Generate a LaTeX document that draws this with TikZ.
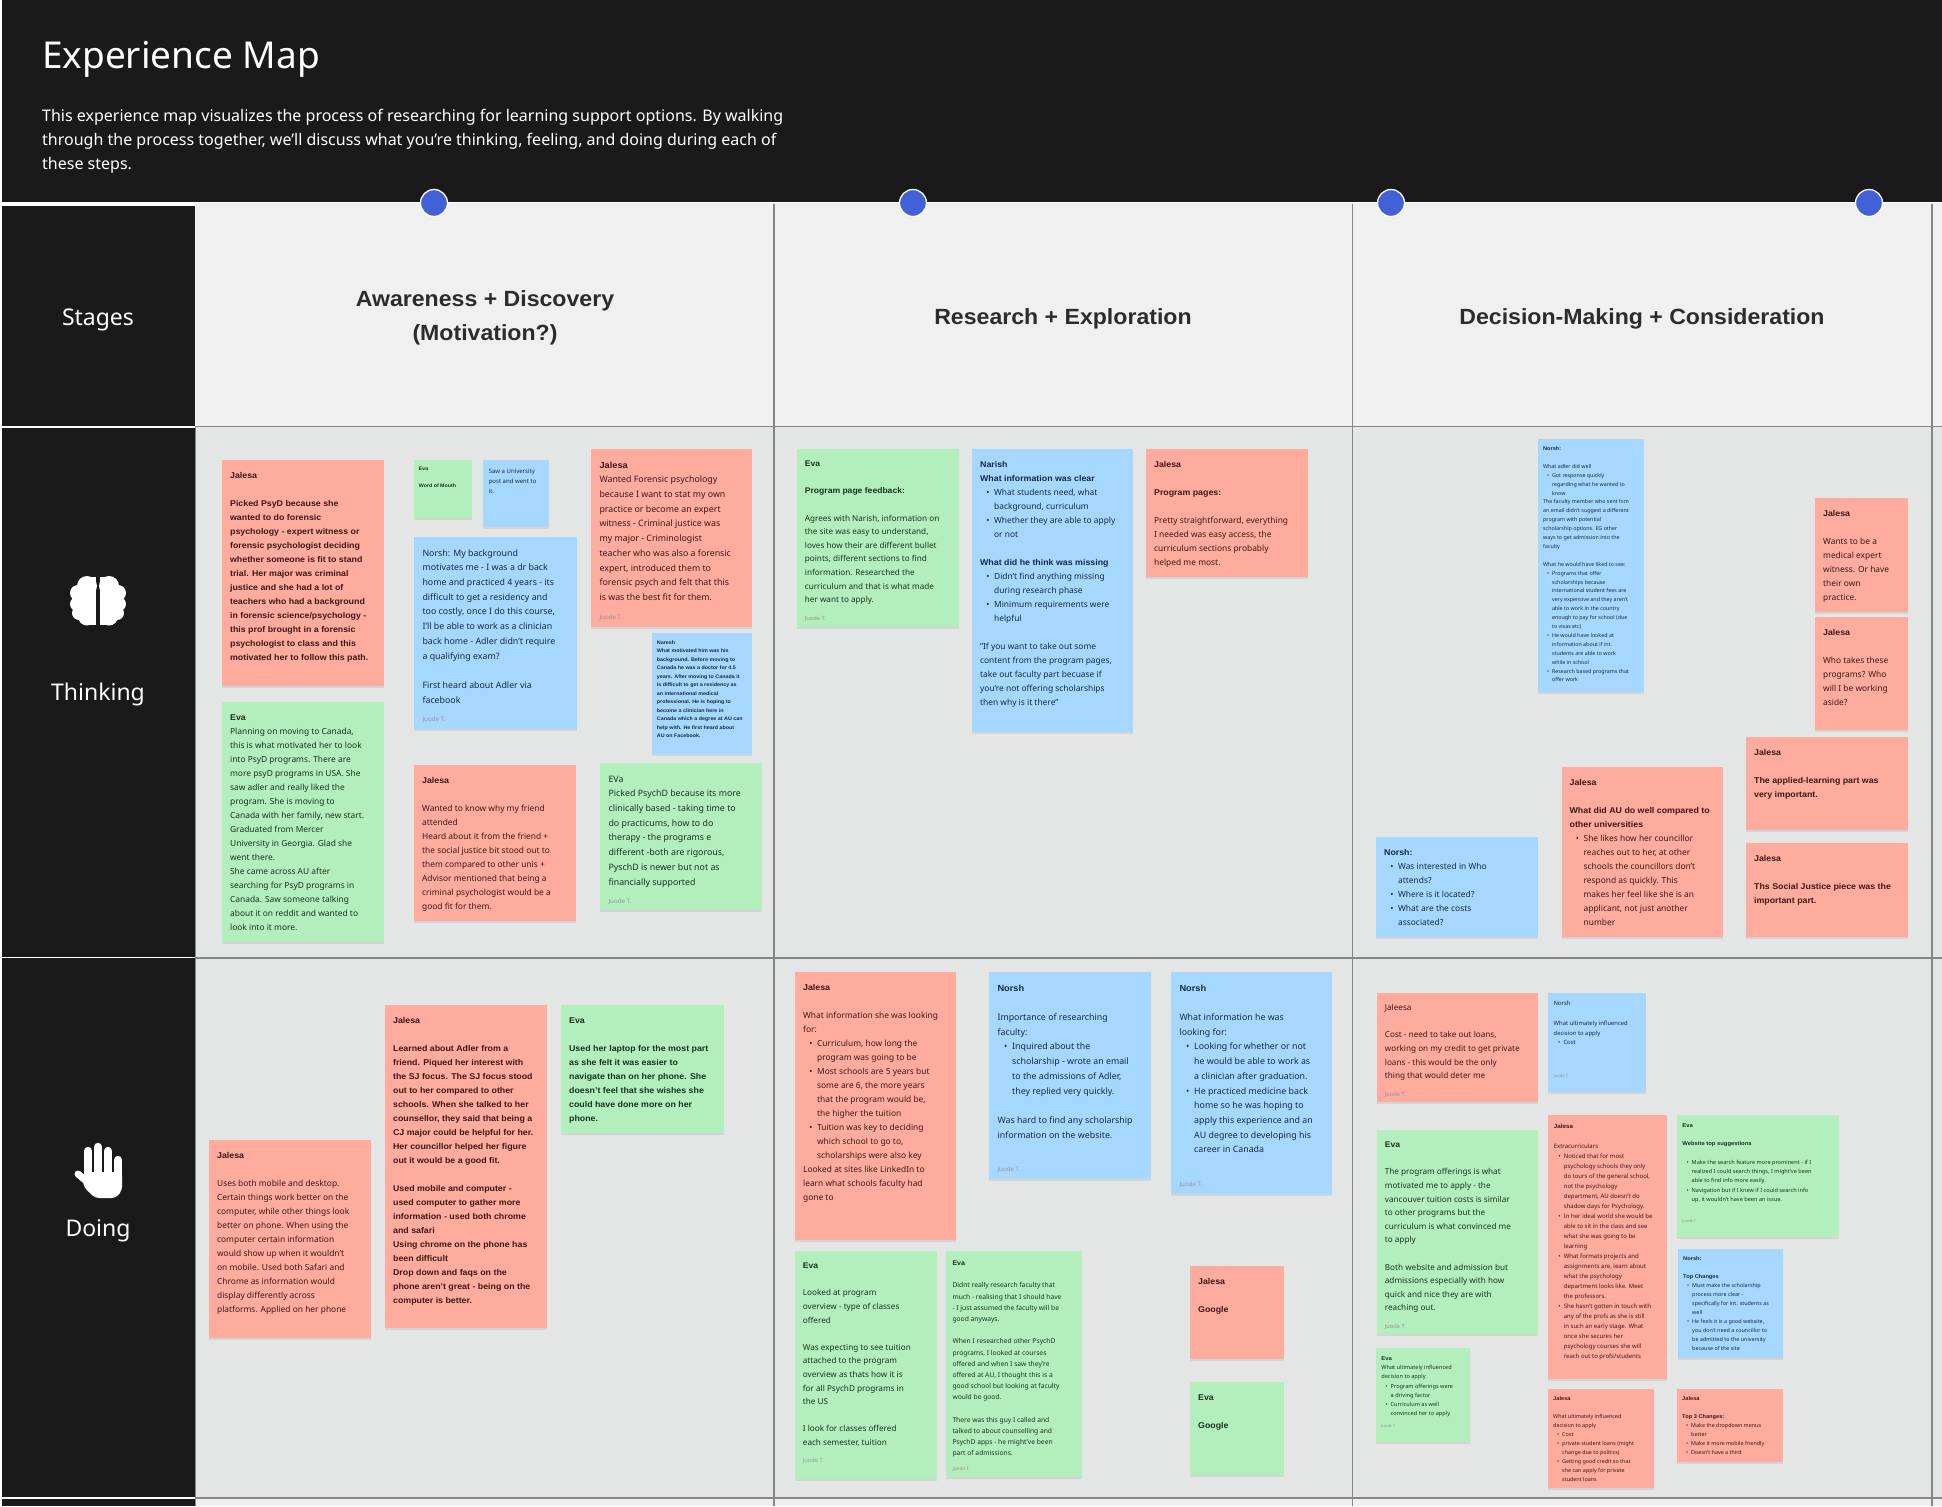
\documentclass[tikz,border=0pt]{standalone}
\usepackage{fontspec}
\setmainfont{Noto Sans}[BoldFont={Liberation Sans Bold},BoldFeatures={FakeStretch=1.05}]
\usetikzlibrary{shadows}
\definecolor{ink}{HTML}{1A1A1A}
\definecolor{stagebg}{HTML}{F0F0F0}
\definecolor{rowbg}{HTML}{E4E5E5}
\definecolor{gridln}{HTML}{868686}
\definecolor{dotblue}{HTML}{4361D6}
\definecolor{pkbg}{HTML}{FFAB9E}
\definecolor{grbg}{HTML}{B3EFBD}
\definecolor{blbg}{HTML}{A6D8FF}
\definecolor{pktx}{HTML}{3A1A18}
\definecolor{grtx}{HTML}{17331E}
\definecolor{bltx}{HTML}{142A42}
\newlength\LD
\newcommand\Fsr{0.60}
\newcommand\Nm[1]{\textbf{#1}}
\newcommand\Bi[1]{\hspace*{\LD}\llap{\textbullet\hspace{.33\LD}}#1}
\newcommand\Ci[1]{\hspace*{\LD}#1}
\newcommand\Ft{\\[.28\LD]{\fontsize{\nftz}{\nld}\selectfont\color{black!42}Juode T.}}
\tikzset{
 note/.style={rectangle,inner sep=0pt,outer sep=0pt,anchor=north west,
   drop shadow={opacity=.16,shadow xshift=0pt,shadow yshift=-1.6pt}},
 gridline/.style={draw=gridln,line width=1.6pt},
 rowlabel/.style={text=white,anchor=center,inner sep=0pt,font=\fontsize{23}{28}\selectfont},
 coltitle/.style={text=ink!92,anchor=center,align=center,inner sep=0pt,font=\fontsize{22}{34}\selectfont\bfseries},
 dot/.style={circle,fill=dotblue,draw=white,line width=1.3pt,minimum size=27pt,inner sep=0pt}
}
% name, colour, x0, y0, x1, y1, leading, content
\newcommand\sticky[8]{%
 \pgfmathsetmacro\nld{#7}%
 \pgfmathsetmacro\nfsz{#7*\Fsr}%
 \pgfmathsetmacro\nftz{#7*.42}%
 \pgfmathsetmacro\nwid{#5-#3}%
 \pgfmathsetmacro\nhei{#6-#4}%
 \pgfmathsetmacro\ntw{#5-#3+60}%
 \node[note,fill=#2bg,text=#2tx] (#1) at (#3,#4) {\parbox[t][\nhei pt][t]{\nwid pt}{%
   \vspace*{.6\dimexpr#7pt\relax}\hspace*{.58\dimexpr#7pt\relax}\parbox[t]{\ntw pt}{\setlength\LD{#7pt}\raggedright\fontsize{\nfsz}{\nld}\selectfont\strut #8}}};%
}
\begin{document}
\begin{tikzpicture}[x=1pt,y=-1pt]
\useasboundingbox (0,0) rectangle (1942,1506);
\fill[white] (0,0) rectangle (1942,1506);
\fill[ink] (2,0) rectangle (1942,202);
\fill[stagebg] (195,203) rectangle (1942,426);
\fill[rowbg] (195,426) rectangle (1942,1498);
\fill[stagebg] (195,1498) rectangle (1942,1506);
\fill[ink] (2,206) rectangle (195,426);
\fill[ink] (2,428) rectangle (195,956.5);
\fill[ink] (2,958) rectangle (195,1497);
\fill[ink] (2,1499) rectangle (195,1506);
\draw[gridline] (195,426.5) -- (1942,426.5);
\draw[gridline] (195,958) -- (1942,958);
\draw[gridline] (195,1498) -- (1942,1498);
\draw[gridline] (774,204) -- (774,1506);
\draw[gridline] (1352.5,204) -- (1352.5,1506);
\draw[gridline] (1932,204) -- (1932,1506);
\draw[gridline] (195.5,426) -- (195.5,1506);

\node[text=white,anchor=west,inner sep=0pt,font=\fontsize{37}{44}\selectfont] (title) at (42,59) {Experience Map};
\node[text=white,anchor=north west,inner sep=0pt,align=left,font=\fontsize{16}{24}\selectfont] (intro) at (42,109) {This experience map visualizes the process of researching for learning support options. By walking\\through the process together, we'll discuss what you're thinking, feeling, and doing during each of\\these steps.};
\node[dot] (d1) at (434,203) {};
\node[dot] (d2) at (913,203) {};
\node[dot] (d3) at (1391,203) {};
\node[dot] (d4) at (1869,203) {};

\node[rowlabel] (stages) at (98,320) {Stages};
\node[rowlabel] (thinking) at (98,695) {Thinking};
\node[rowlabel] (doing) at (98,1231) {Doing};
\node[coltitle] (c1) at (485,318) {Awareness + Discovery\\(Motivation?)};
\node[coltitle] (c2) at (1063,319) {Research + Exploration};
\node[coltitle] (c3) at (1642,319) {Decision-Making + Consideration};

% brain icon
\foreach \s in {1,-1}{
 \begin{scope}[shift={(98,601)},xscale=\s]
  \fill[white] (2,-24) rectangle (12,24);
  \fill[white] (11,-15) circle (10);
  \fill[white] (20,-8) circle (8);
  \fill[white] (21,3) circle (7);
  \fill[white] (19,12) circle (7);
  \fill[white] (11,15.5) circle (9);
  \fill[white] (14,-2) circle (11);
 \end{scope}
}
% hand icon
\begin{scope}
 \draw[white,line width=8.4pt,line cap=round] (88,1151) -- (88,1178);
 \draw[white,line width=8.4pt,line cap=round] (98,1147) -- (98,1178);
 \draw[white,line width=8.4pt,line cap=round] (108,1151) -- (108,1178);
 \draw[white,line width=8.4pt,line cap=round] (118,1160) -- (118,1178);
 \draw[white,line width=7pt,line cap=round] (78,1174) -- (90,1184);
 \fill[white,rounded corners=4pt] (84,1172) -- (122.2,1172) -- (122.2,1190) -- (116,1198) -- (95,1198) -- (83,1186) -- cycle;
\end{scope}

% ---------- Thinking / Awareness
\sticky{a1}{pk}{222}{460}{384}{686}{14}{\Nm{Jalesa}\\~\\\bfseries Picked PsyD because she\\wanted to do forensic\\psychology - expert witness or\\forensic psychologist deciding\\whether someone is fit to stand\\trial. Her major was criminal\\justice and she had a lot of\\teachers who had a background\\in forensic science/psychology -\\this prof brought in a forensic\\psychologist to class and this\\motivated her to follow this path.}
\sticky{a2}{gr}{222}{702}{384}{942}{14}{\Nm{Eva}\\Planning on moving to Canada,\\this is what motivated her to look\\into PsyD programs. There are\\more psyD programs in USA. She\\saw adler and really liked the\\program. She is moving to\\Canada with her family, new start.\\Graduated from Mercer\\University in Georgia. Glad she\\went there.\\She came across AU after\\searching for PsyD programs in\\Canada. Saw someone talking\\about it on reddit and wanted to\\look into it more.}
\sticky{a3}{gr}{414}{460}{472}{518}{8.4}{\Nm{Eva}\\~\\\bfseries Word of Mouth}
\sticky{a4}{bl}{483}{460}{549}{527}{10}{Saw a University\\post and went to\\it.}
\sticky{a5}{bl}{414}{537}{577}{729}{14.7}{Norsh: My background\\motivates me - I was a dr back\\home and practiced 4 years - its\\difficult to get a residency and\\too costly, once I do this course,\\I'll be able to work as a clinician\\back home - Adler didn't require\\a qualifying exam?\\~\\First heard about Adler via\\facebook\Ft}
\sticky{a6}{pk}{414}{765}{576}{921}{14}{\Nm{Jalesa}\\~\\Wanted to know why my friend\\attended\\Heard about it from the friend +\\the social justice bit stood out to\\them compared to other unis +\\Advisor mentioned that being a\\criminal psychologist would be a\\good fit for them.}
\sticky{a7}{pk}{591}{449}{752}{627}{14.7}{\Nm{Jalesa}\\Wanted Forensic psychology\\because I want to stat my own\\practice or become an expert\\witness - Criminal justice was\\my major - Criminologist\\teacher who was also a forensic\\expert, introduced them to\\forensic psych and felt that this\\is was the best fit for them.\Ft}
\sticky{a8}{bl}{652}{633}{752}{754}{8.5}{\bfseries Naresh\\What motivated him was his\\background. Before moving to\\Canada he was a doctor for 4.5\\years. After moving to Canada it\\is difficult to get a residency as\\an international medical\\professional. He is hoping to\\become a clinician here in\\Canada which a degree at AU can\\help with. He first heard about\\AU on Facebook.}
\sticky{a9}{gr}{600}{763}{762}{910}{14.7}{EVa\\Picked PsychD because its more\\clinically based - taking time to\\do practicums, how to do\\therapy - the programs e\\different -both are rigorous,\\PyschD is newer but not as\\financially supported\Ft}

% ---------- Thinking / Research
\sticky{b1}{gr}{797}{449}{959}{627}{13.6}{\Nm{Eva}\\~\\\Nm{Program page feedback:}\\~\\Agrees with Narish, information on\\the site was easy to understand,\\loves how their are different bullet\\points, different sections to find\\information. Researched the\\curriculum and that is what made\\her want to apply.\Ft}
\sticky{b2}{bl}{972}{449}{1133}{732}{14}{\Nm{Narish}\\\Nm{What information was clear}\\\Bi{What students need, what}\\\Ci{background, curriculum}\\\Bi{Whether they are able to apply}\\\Ci{or not}\\~\\\Nm{What did he think was missing}\\\Bi{Didn't find anything missing}\\\Ci{during research phase}\\\Bi{Minimum requirements were}\\\Ci{helpful}\\~\\"If you want to take out some\\content from the program pages,\\take out faculty part becuase if\\you're not offering scholarships\\then why is it there"}
\sticky{b3}{pk}{1146}{449}{1307.5}{577}{14}{\Nm{Jalesa}\\~\\\Nm{Program pages:}\\~\\Pretty straightforward, everything\\I needed was easy access, the\\curriculum sections probably\\helped me most.}

% ---------- Thinking / Decision
\sticky{c4}{bl}{1538}{439}{1644}{692}{8.9}{\Nm{Norsh:}\\~\\What adler did well\\\Bi{Got response quickly}\\\Ci{regarding what he wanted to}\\\Ci{know}\\The faculty member who sent him\\an email didn't suggest a different\\program with potential\\scholarship options. EG other\\ways to get admission into the\\faculty\\~\\What he would have liked to see:\\\Bi{Programs that offer}\\\Ci{scholarships because}\\\Ci{international student fees are}\\\Ci{very expensive and they aren't}\\\Ci{able to work in the country}\\\Ci{enough to pay for school (due}\\\Ci{to visas etc)}\\\Bi{He would have looked at}\\\Ci{information about if int.}\\\Ci{students are able to work}\\\Ci{while in school}\\\Bi{Research based programs that}\\\Ci{offer work}}
\sticky{c5}{pk}{1815}{498}{1907.5}{612}{14}{\Nm{Jalesa}\\~\\Wants to be a\\medical expert\\witness. Or have\\their own\\practice.}
\sticky{c6}{pk}{1815}{617}{1907.5}{730}{14}{\Nm{Jalesa}\\~\\Who takes these\\programs? Who\\will I be working\\aside?}
\sticky{c7}{pk}{1746}{737}{1907.5}{830}{14}{\Nm{Jalesa}\\~\\\Nm{The applied-learning part was}\\\Nm{very important.}}
\sticky{c8}{pk}{1746}{843}{1907.5}{937}{14}{\Nm{Jalesa}\\~\\\Nm{Ths Social Justice piece was the}\\\Nm{important part.}}
\sticky{c9}{pk}{1561.5}{767}{1723}{937}{14}{\Nm{Jalesa}\\~\\\Nm{What did AU do well compared to}\\\Nm{other universities}\\\Bi{She likes how her councillor}\\\Ci{reaches out to her, at other}\\\Ci{schools the councillors don't}\\\Ci{respond as quickly. This}\\\Ci{makes her feel like she is an}\\\Ci{applicant, not just another}\\\Ci{number}}
\sticky{c10}{bl}{1376}{837}{1538}{937}{14}{\Nm{Norsh:}\\\Bi{Was interested in Who}\\\Ci{attends?}\\\Bi{Where is it located?}\\\Bi{What are the costs}\\\Ci{associated?}}

% ---------- Doing / Awareness
\sticky{e1}{pk}{209}{1140}{371}{1338}{14}{\Nm{Jalesa}\\~\\Uses both mobile and desktop.\\Certain things work better on the\\computer, while other things look\\better on phone. When using the\\computer certain information\\would show up when it wouldn't\\on mobile. Used both Safari and\\Chrome as information would\\display differently across\\platforms. Applied on her phone}
\sticky{e2}{pk}{385}{1005}{547}{1328}{14}{\Nm{Jalesa}\\~\\\bfseries Learned about Adler from a\\friend. Piqued her interest with\\the SJ focus. The SJ focus stood\\out to her compared to other\\schools. When she talked to her\\counsellor, they said that being a\\CJ major could be helpful for her.\\Her councillor helped her figure\\out it would be a good fit.\\~\\Used mobile and computer -\\used computer to gather more\\information - used both chrome\\and safari\\Using chrome on the phone has\\been difficult\\Drop down and faqs on the\\phone aren't great - being on the\\computer is better.}
\sticky{e3}{gr}{561}{1005}{724}{1133}{14}{\Nm{Eva}\\~\\\bfseries Used her laptop for the most part\\as she felt it was easier to\\navigate than on her phone. She\\doesn't feel that she wishes she\\could have done more on her\\phone.}

% ---------- Doing / Research
\sticky{f1}{pk}{795}{972}{956}{1240}{14}{\Nm{Jalesa}\\~\\What information she was looking\\for:\\\Bi{Curriculum, how long the}\\\Ci{program was going to be}\\\Bi{Most schools are 5 years but}\\\Ci{some are 6, the more years}\\\Ci{that the program would be,}\\\Ci{the higher the tuition}\\\Bi{Tuition was key to deciding}\\\Ci{which school to go to,}\\\Ci{scholarships were also key}\\Looked at sites like LinkedIn to\\learn what schools faculty had\\gone to}
\sticky{f2}{bl}{989}{972}{1151}{1179}{14.7}{\Nm{Norsh}\\~\\Importance of researching\\faculty:\\\Bi{Inquired about the}\\\Ci{scholarship - wrote an email}\\\Ci{to the admissions of Adler,}\\\Ci{they replied very quickly.}\\~\\Was hard to find any scholarship\\information on the website.\\~\Ft}
\sticky{f3}{bl}{1171}{972}{1332}{1194}{14.7}{\Nm{Norsh}\\~\\What information he was\\looking for:\\\Bi{Looking for whether or not}\\\Ci{he would be able to work as}\\\Ci{a clinician after graduation.}\\\Bi{He practiced medicine back}\\\Ci{home so he was hoping to}\\\Ci{apply this experience and an}\\\Ci{AU degree to developing his}\\\Ci{career in Canada}\\~\Ft}
\sticky{f4}{gr}{795}{1251}{937}{1479}{13.6}{\Nm{Eva}\\~\\Looked at program\\overview - type of classes\\offered\\~\\Was expecting to see tuition\\attached to the program\\overview as thats how it is\\for all PsychD programs in\\the US\\~\\I look for classes offered\\each semester, tuition\Ft}
\sticky{f5}{gr}{946}{1251}{1082}{1477}{11.2}{\Nm{Eva}\\~\\Didnt really research faculty that\\much - realising that I should have\\- I just assumed the faculty will be\\good anyways.\\~\\When I researched other PsychD\\programs, I looked at courses\\offered and when I saw they're\\offered at AU, I thought this is a\\good school but looking at faculty\\would be good.\\~\\There was this guy I called and\\talked to about counselling and\\PsychD apps - he might've been\\part of admissions.\Ft}
\sticky{f6}{pk}{1190}{1266}{1284}{1359}{14}{\Nm{Jalesa}\\~\\\Nm{Google}}
\sticky{f7}{gr}{1190}{1382}{1284}{1475}{14}{\Nm{Eva}\\~\\\Nm{Google}}

% ---------- Doing / Decision
\sticky{g1}{pk}{1377}{993}{1538}{1102}{13.6}{Jaleesa\\~\\Cost - need to take out loans,\\working on my credit to get private\\loans - this would be the only\\thing that would deter me\Ft}
\sticky{g2}{bl}{1548}{993}{1646}{1092}{9.8}{Norsh\\~\\What ultimately influenced\\decision to apply\\\Bi{Cost}\\~\\~\Ft}
\sticky{g3}{gr}{1377}{1130}{1538}{1334}{13.6}{\Nm{Eva}\\~\\The program offerings is what\\motivated me to apply - the\\vancouver tuition costs is similar\\to other programs but the\\curriculum is what convinced me\\to apply\\~\\Both website and admission but\\admissions especially with how\\quick and nice they are with\\reaching out.\Ft}
\sticky{g4}{pk}{1548}{1115}{1667}{1379}{10}{\Nm{Jalesa}\\~\\Extracurriculars\\\Bi{Noticed that for most}\\\Ci{psychology schools they only}\\\Ci{do tours of the general school,}\\\Ci{not the psychology}\\\Ci{department, AU doesn't do}\\\Ci{shadow days for Psychology.}\\\Bi{In her ideal world she would be}\\\Ci{able to sit in the class and see}\\\Ci{what she was going to be}\\\Ci{learning}\\\Bi{What formats projects and}\\\Ci{assignments are, learn about}\\\Ci{what the psychology}\\\Ci{department looks like. Meet}\\\Ci{the professors.}\\\Bi{She hasn't gotten in touch with}\\\Ci{any of the profs as she is still}\\\Ci{in such an early stage. What}\\\Ci{once she secures her}\\\Ci{psychology courses she will}\\\Ci{reach out to profs/students}}
\sticky{g5}{gr}{1677}{1115}{1839}{1237}{9.3}{\Nm{Eva}\\~\\\Nm{Website top suggestions}\\~\\\Bi{Make the search feature more prominent - if I}\\\Ci{realized I could search things, I might've been}\\\Ci{able to find info more easily.}\\\Bi{Navigation but if I knew if I could search info}\\\Ci{up, it wouldn't have been an issue.}\\~\Ft}
\sticky{g6}{bl}{1678}{1249}{1783}{1358}{9}{\Nm{Norsh:}\\~\\\Nm{Top Changes}\\\Bi{Must make the scholarship}\\\Ci{process more clear -}\\\Ci{specifically for int. students as}\\\Ci{well}\\\Bi{He feels it is a good website,}\\\Ci{you don't need a councillor to}\\\Ci{be admitted to the university}\\\Ci{because of the site}}
\sticky{g7}{gr}{1376}{1348}{1470}{1442}{9.3}{\Nm{Eva}\\What ultimately influenced\\decision to apply\\\Bi{Program offerings were}\\\Ci{a driving factor}\\\Bi{Curriculum as well}\\\Ci{convinced her to apply}\Ft}
\sticky{g8}{pk}{1548}{1389}{1654}{1488}{9}{\Nm{Jalesa}\\~\\What ultimately influenced\\decision to apply\\\Bi{Cost}\\\Bi{private student loans (might}\\\Ci{change due to politics)}\\\Bi{Getting good credit so that}\\\Ci{she can apply for private}\\\Ci{student loans}}
\sticky{g9}{pk}{1677}{1389}{1783}{1462}{9}{\Nm{Jalesa}\\~\\\Nm{Top 3 Changes:}\\\Bi{Make the dropdown menus}\\\Ci{better}\\\Bi{Make it more mobile friendly}\\\Bi{Doesn't have a third}}
\end{tikzpicture}
\end{document}
